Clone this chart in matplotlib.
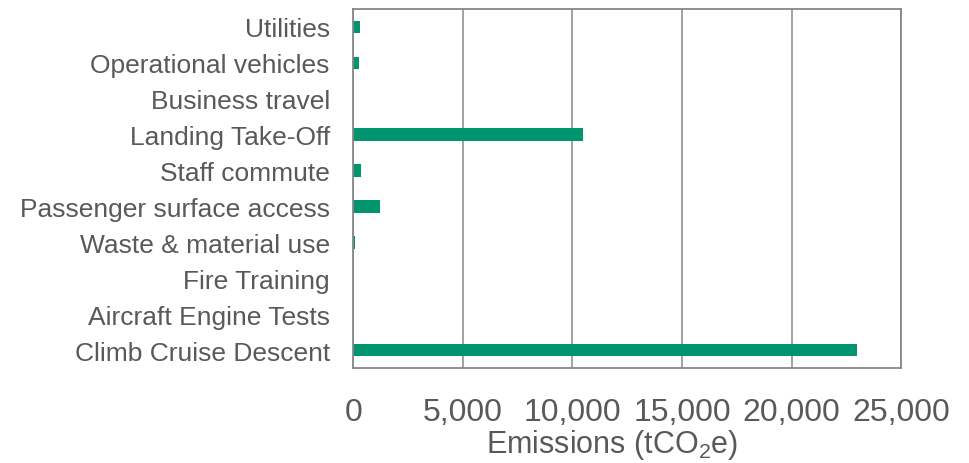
import matplotlib.pyplot as plt
import matplotlib.ticker as mticker

plt.rcParams['font.family'] = ['Liberation Sans', 'DejaVu Sans']
plt.rcParams['mathtext.default'] = 'regular'

categories = ['Climb Cruise Descent', 'Aircraft Engine Tests', 'Fire Training',
              'Waste & material use', 'Passenger surface access', 'Staff commute',
              'Landing Take-Off', 'Business travel', 'Operational vehicles', 'Utilities']
emissions = [22990, 0, 0, 80, 1230, 350, 10470, 0, 230, 320]
xticks = [0, 5000, 10000, 15000, 20000, 25000]

text_col = '#595959'
grid_col = '#878787'

fig = plt.figure(figsize=(9.7, 4.64), dpi=100)
ax = fig.add_axes([0.3644, 0.2047, 0.5645, 0.7737])

ax.barh(range(len(categories)), emissions, height=0.35, color='#00956E', zorder=2)

ax.set_xlim(0, 25000)
ax.set_ylim(-0.5, len(categories) - 0.5)
ax.set_xticks(xticks)
ax.xaxis.set_major_formatter(mticker.FuncFormatter(lambda v, p: f'{int(v):,}'))
ax.set_yticks(range(len(categories)))
ax.set_yticklabels(categories)

ax.grid(axis='x', color=grid_col, linewidth=1.1, zorder=0)
ax.set_axisbelow(True)
for s in ax.spines.values():
    s.set_color(grid_col)
    s.set_linewidth(1.3)

ax.tick_params(axis='y', length=0, pad=17, labelsize=19, labelcolor=text_col)
ax.tick_params(axis='x', length=0, pad=21, labelsize=23, labelcolor=text_col)

ax.set_xlabel('Emissions (tCO$_2$e)', fontsize=22, color=text_col, labelpad=0, x=0.472)

fig.savefig('out.png', dpi=100)
